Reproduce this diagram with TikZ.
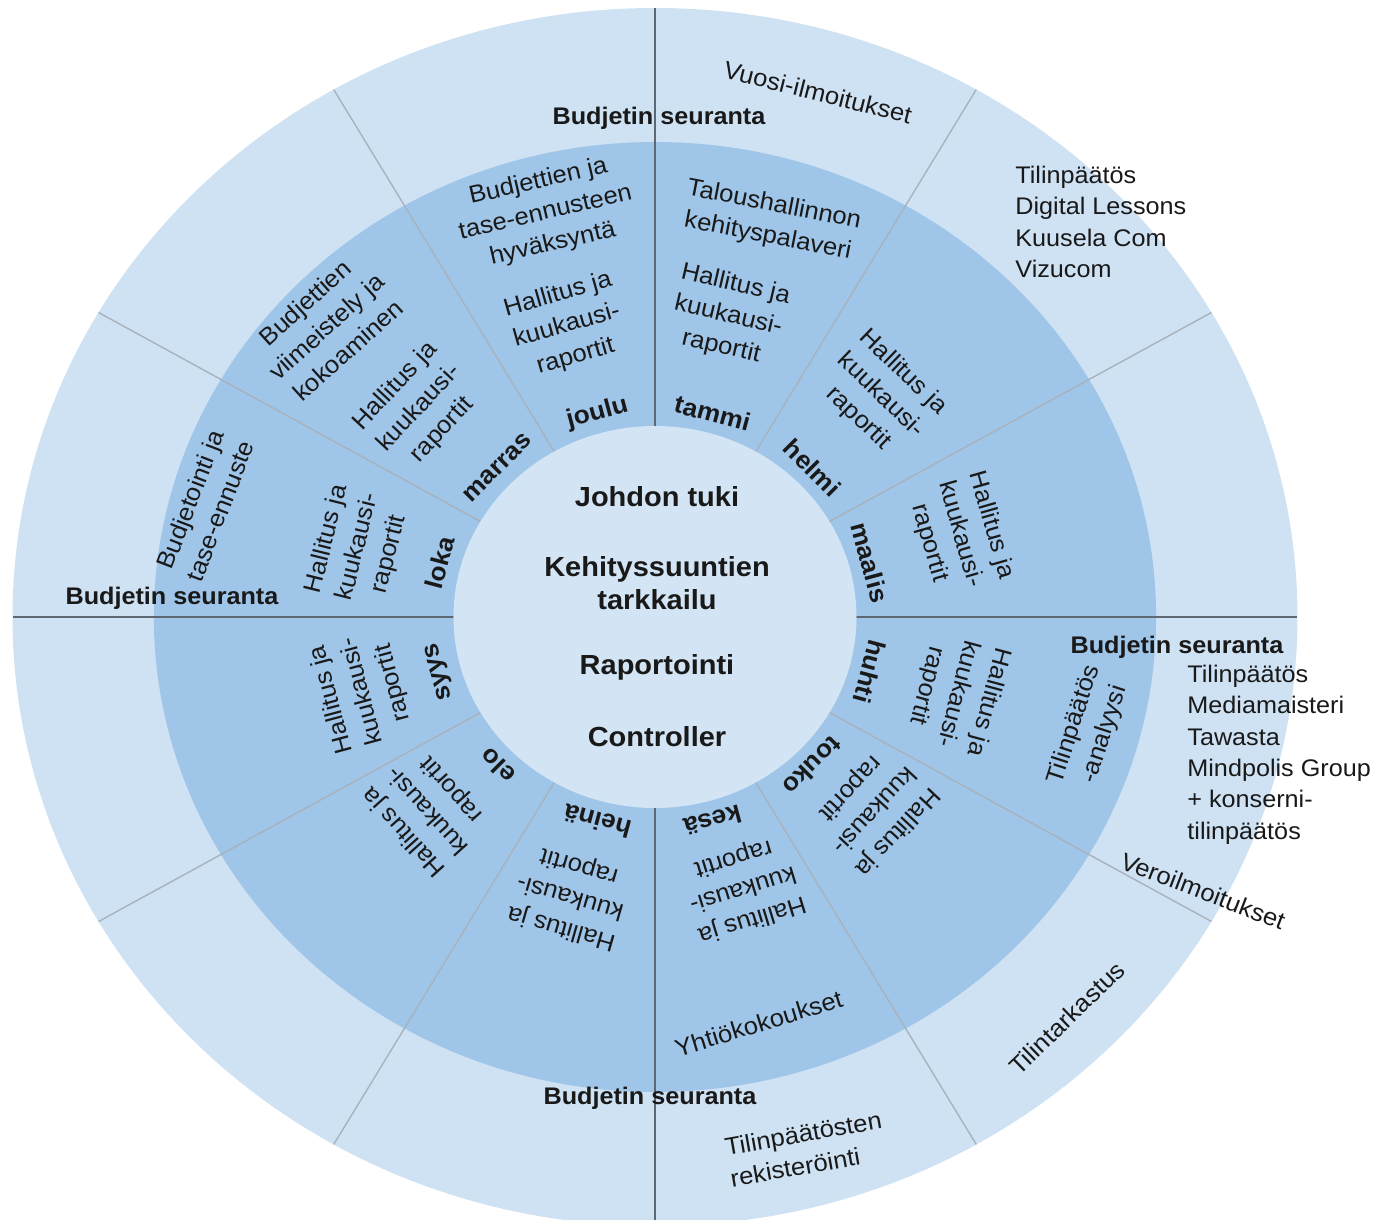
\documentclass[tikz,border=0pt]{standalone}
\usepackage{fontspec}
\setmainfont{Liberation Sans}[FakeStretch=1.05]
\definecolor{ringout}{HTML}{CFE2F3}
\definecolor{ringmid}{HTML}{9FC5E8}
\definecolor{ringcore}{HTML}{D3E5F4}
\definecolor{linedark}{HTML}{5E6873}
\definecolor{linelight}{HTML}{A7B2BD}
\begin{document}
\begin{tikzpicture}[x=0.5pt,y=0.5pt,
  txt/.style={font=\fontsize{12.2}{16}\selectfont, align=center, text=black!90, inner sep=0pt},
  kuu/.style={font=\bfseries\fontsize{12.5}{15}\selectfont, text=black!90, inner sep=0pt},
  ydin/.style={font=\bfseries\fontsize{13.8}{16.5}\selectfont, align=center, text=black!90, inner sep=0pt},
  seur/.style={font=\bfseries\fontsize{12}{15}\selectfont, text=black!90, inner sep=0pt},
  lista/.style={font=\fontsize{12}{15.7}\selectfont, align=left, text=black!90, inner sep=0pt, anchor=west},
  jako/.style={draw=linelight, line width=0.7pt},
  akseli/.style={draw=linedark, line width=1pt}]
\useasboundingbox (-655,-603) rectangle (732,617);
\clip (-655,-603) rectangle (732,617);
\begin{scope}[xscale=1.055]
% les trois anneaux
\fill[ringout] (0,0) circle (609);
\fill[ringmid] (0,0) circle (475);
% les rayons : un par mois, les axes plus sombres
\foreach \a in {30,60,120,150,210,240,300,330}
  \draw[jako] (\a:190) -- (\a:609);
\foreach \a in {0,90,180,270}
  \draw[akseli] (\a:190) -- (\a:609);
\fill[ringcore] (0,0) circle (191);
% les mois, tangents au cercle
\foreach \m/\a [count=\i] in {joulu/105,tammi/75,helmi/45,maalis/15,huhti/-15,touko/-45,kesä/-75,heinä/-105,elo/-135,syys/-165,loka/165,marras/135}
  \node[kuu, rotate=\a-90] (kk\i) at (\a:211) {\m};
\foreach \a/\r [count=\i] in {106/303,77/309,46/308,16/301,-15/297,-43/283,-73/284,-106/291,-138/289,-165/287,166/290,137/306}
  \node[txt, rotate=\a-90] (hk\i) at (\a:\r) {Hallitus ja\\kuukausi-\\raportit};
\node[txt, rotate=13] (hyvaksynta) at (104.4:417) {Budjettien ja\\tase-ennusteen\\hyväksyntä};
\node[txt, rotate=-11] (palaveri) at (74.5:411) {Taloushallinnon\\kehityspalaveri};
\node[txt, rotate=42] (kokoaminen) at (137:426) {Budjettien\\viimeistely ja\\kokoaminen};
\node[txt, rotate=69] (ennuste) at (165.3:441) {Budjetointi ja\\tase-ennuste};
\node[txt, rotate=72] (analyysi) at (-15.3:427) {Tilinpäätös\\-analyysi};
\node[txt, rotate=17] (yhtiokokous) at (-76.4:418) {Yhtiökokoukset};
\node[txt, rotate=-14] (vuosi) at (73.6:547) {Vuosi-ilmoitukset};
\end{scope}
% le centre
\node[ydin] (tuki) at (2,120) {Johdon tuki};
\node[ydin] (kehitys) at (2,33.5) {Kehityssuuntien\\tarkkailu};
\node[ydin] (raportointi) at (2,-50) {Raportointi};
\node[ydin] (controller) at (2,-120) {Controller};
% suivi du budget, aux quatre coins
\node[seur] (bsN) at (4,499) {Budjetin seuranta};
\node[seur] (bsW) at (-483,19) {Budjetin seuranta};
\node[seur] (bsS) at (-5,-481) {Budjetin seuranta};
\node[seur] (bsE) at (522,-30) {Budjetin seuranta};
% anneau exterieur
\node[lista] (tp1) at (360,395) {Tilinpäätös\\Digital Lessons\\Kuusela Com\\Vizucom};
\node[lista] (tp2) at (532,-137.5) {Tilinpäätös\\Mediamaisteri\\Tawasta\\Mindpolis Group\\+ konserni-\\tilinpäätös};
\node[txt, rotate=-21] (vero) at (548,-274) {Veroilmoitukset};
\node[txt, rotate=44] (tarkastus) at (412,-401) {Tilintarkastus};
\node[txt, align=left, rotate=10] (rekisteri) at (151,-532) {Tilinpäätösten\\rekisteröinti};
\end{tikzpicture}
\end{document}
